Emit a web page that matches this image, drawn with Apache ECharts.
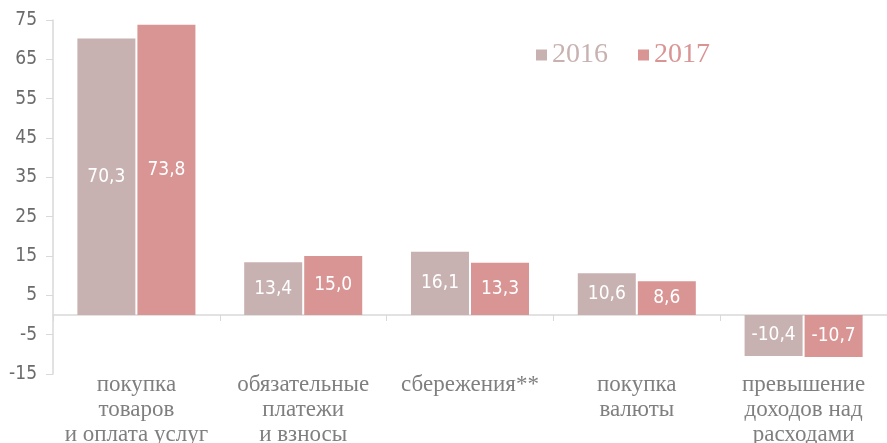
<!DOCTYPE html>
<html>
<head>
<meta charset="utf-8">
<script src="https://cdn.jsdelivr.net/npm/echarts@6/dist/echarts.min.js"></script>
<style>
  html, body { margin: 0; padding: 0; background: #fff; }
  #chart { width: 887px; height: 443px; }
</style>
</head>
<body>
<div id="chart"></div>
<script>
const categories = [
  'покупка\nтоваров\nи оплата услуг',
  'обязательные\nплатежи\nи взносы',
  'сбережения**',
  'покупка\nвалюты',
  'превышение\nдоходов над\nрасходами'
];
const years = ['2016', '2017'];
const values2016 = [70.3, 13.4, 16.1, 10.6, -10.4];
const values2017 = [73.8, 15.0, 13.3, 8.6, -10.7];
const colors = ['#c8b2b1', '#d99494'];

const narrowFont = '"DejaVu Sans Condensed", "Liberation Sans Narrow", "Roboto", sans-serif';

const chart = echarts.init(document.getElementById('chart'));

// подпись внутри столбца, с запятой
const barLabel = {
  show: true,
  position: 'inside',
  color: '#ffffff',
  fontFamily: narrowFont,
  fontSize: 19,
  formatter: p => p.value.toFixed(1).replace('.', ',')
};

const option = {
  animation: false,
  legend: {
    data: years,
    left: 531,
    top: 36,
    itemWidth: 11,
    itemHeight: 11,
    itemGap: 30,
    icon: 'rect',
    textStyle: {
      fontFamily: 'Liberation Serif',
      fontSize: 28,
      color: 'inherit'
    }
  },
  grid: {
    left: 53,
    right: 0,
    top: 20,
    bottom: 69,
    outerBoundsMode: 'none',
    containLabel: false
  },
  xAxis: {
    type: 'category',
    data: categories,
    axisLine: { onZero: true, lineStyle: { color: '#d9d9d9', width: 1.5 } },
    axisTick: { show: true, length: 6, lineStyle: { color: '#d9d9d9' } },
    axisLabel: {
      margin: -2,
      interval: 0,
      fontFamily: 'Liberation Serif',
      fontSize: 23,
      lineHeight: 25,
      color: '#7f7f7f',
      verticalAlign: 'top'
    }
  },
  yAxis: {
    type: 'value',
    min: -15,
    max: 75,
    interval: 10,
    splitLine: { show: false },
    axisLine: { show: true, lineStyle: { color: '#d9d9d9', width: 1.5 } },
    axisTick: { show: true, length: 7, lineStyle: { color: '#d9d9d9' } },
    axisLabel: {
      margin: 16,
      fontFamily: narrowFont,
      fontSize: 19,
      color: '#6b6b6b'
    }
  },
  series: [
    {
      name: years[0],
      type: 'bar',
      data: values2016,
      barWidth: 58,
      barGap: '3.5%',
      itemStyle: { color: colors[0] },
      label: barLabel
    },
    {
      name: years[1],
      type: 'bar',
      data: values2017,
      barWidth: 58,
      barGap: '3.5%',
      itemStyle: { color: colors[1] },
      label: barLabel
    }
  ]
};

chart.setOption(option);
</script>
</body>
</html>
